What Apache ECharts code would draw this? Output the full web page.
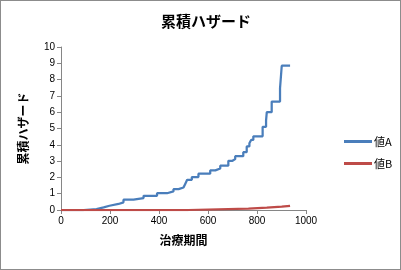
<!DOCTYPE html>
<html><head><meta charset="utf-8">
<script src="https://cdn.jsdelivr.net/npm/echarts@6/dist/echarts.min.js"></script>
<style>html,body{margin:0;padding:0;background:#fff}#c{width:401px;height:270px;box-sizing:border-box;border:1px solid #8c8c8c}</style>
</head><body><div id="c"></div>
<script>
const title = "累積ハザード";
const xName = "治療期間";
const yName = "累積ハザード";
const seriesNames = ["値A", "値B"];
const timeA = [0,93,145,174,198,235,255,296,337,392,433,459,480,500,507,515,534,561,609,630,650,683,700,711,744,758,769,776,785,823,837,840,860,894,901,935];
const hazA  = [0,0.05,0.16,0.26,0.37,0.47,0.63,0.73,0.87,1.03,1.14,1.28,1.38,1.5,1.6,1.85,2.02,2.23,2.43,2.55,2.72,3.02,3.12,3.3,3.55,3.9,4.1,4.3,4.52,5.1,5.5,6.0,6.65,7.47,8.85,8.85];
const timeB = [0,520,765,840,901,935];
const hazB  = [0,0.08,0.14,0.2,0.26,0.26];
const xTicks = [0,200,400,600,800,1000];
const yTicks = [0,1,2,3,4,5,6,7,8,9,10];

const chart = echarts.init(document.getElementById('c'));
const cjk = '"Noto Sans CJK JP", sans-serif';
const num = '"Liberation Sans", Arial, sans-serif';
chart.setOption({
  animation:false,
  title:{text:title,left:200,top:8,textAlign:'center',textStyle:{fontFamily:cjk,fontSize:15,fontWeight:'bold',color:'#000'}},
  legend:{orient:'vertical',left:338,top:130,itemWidth:28,itemHeight:3,itemGap:11,icon:'rect',
    textStyle:{fontFamily:cjk,fontSize:11,color:'#000',padding:[0,0,0,-3]},data:seriesNames},
  grid:{left:60,right:94,top:46,bottom:59,containLabel:false},
  xAxis:{type:'value',min:xTicks[0],max:xTicks[xTicks.length-1],interval:200,
    name:xName,nameLocation:'middle',nameGap:24,nameTextStyle:{fontFamily:cjk,fontSize:12,fontWeight:'bold',color:'#000'},
    axisLine:{lineStyle:{color:'#868686'}},axisTick:{length:4,lineStyle:{color:'#868686'}},
    axisLabel:{fontFamily:num,fontSize:10,color:'#000',margin:6,formatter:v=>String(v)},splitLine:{show:false}},
  yAxis:{type:'value',min:yTicks[0],max:yTicks[yTicks.length-1],interval:1,
    name:yName,nameLocation:'middle',nameGap:32,nameRotate:90,nameTextStyle:{fontFamily:cjk,fontSize:12,fontWeight:'bold',color:'#000'},
    axisLine:{show:true,lineStyle:{color:'#868686'}},axisTick:{show:true,length:4,lineStyle:{color:'#868686'}},
    axisLabel:{fontFamily:num,fontSize:10,color:'#000',margin:6,formatter:v=>String(v)},splitLine:{show:false}},
  series:[
    {name:seriesNames[0],type:'line',step:'end',showSymbol:false,data:timeA.map((t,i)=>[t,hazA[i]]),
     lineStyle:{color:'#4a7ebb',width:2.25},itemStyle:{color:'#4a7ebb'}},
    {name:seriesNames[1],type:'line',step:'end',showSymbol:false,data:timeB.map((t,i)=>[t,hazB[i]]),
     lineStyle:{color:'#be4b48',width:2.25},itemStyle:{color:'#be4b48'}}
  ]
});
</script></body></html>
